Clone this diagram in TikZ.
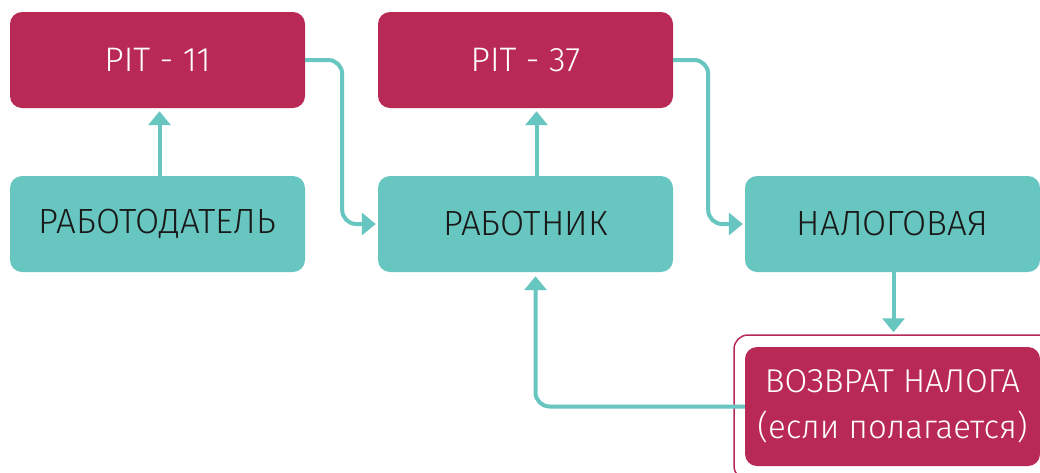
\documentclass[tikz,border=0pt]{standalone}
\usepackage{fontspec}
\setmainfont{Fira Sans}[UprightFont=* Light]
\usetikzlibrary{arrows.meta}
\definecolor{crimson}{RGB}{185,41,86}
\definecolor{aqua}{RGB}{104,198,193}
\definecolor{ink}{RGB}{25,25,25}
\tikzset{
  redbox/.style={fill=crimson, rounded corners=12pt, minimum width=295pt, minimum height=96pt, text=white, font=\fontsize{34}{36}\selectfont, align=center},
  tealbox/.style={fill=aqua, rounded corners=12pt, minimum width=295pt, minimum height=96pt, text=ink, font=\fontsize{35}{40}\selectfont},
  flow/.style={draw=aqua, line width=4pt, rounded corners=14pt, -{Triangle[width=22pt,length=14pt]}}
}
\begin{document}
\begin{tikzpicture}[x=1pt,y=-1pt]
\clip (0,0) rectangle (1040,472);
\fill[white] (0,0) rectangle (1040,472);
\node[redbox] (pit11) at (157.5,60){PIT - 11};
\node[redbox] (pit37) at (525.5,60){PIT - 37};
\node[tealbox] (employer) at (157.5,224){РАБОТОДАТЕЛЬ};
\node[tealbox] (worker) at (525.5,224){РАБОТНИК};
\node[tealbox] (taxoffice) at (892.5,224){НАЛОГОВАЯ};
\node[draw=crimson, line width=1.5pt, rounded corners=14pt, minimum width=318pt, minimum height=145pt] (refundframe) at (893,407.5){};
\node[redbox, minimum height=119pt, font=\fontsize{33}{46}\selectfont] (refund) at (892.5,406.5){ВОЗВРАТ НАЛОГА\\(если полагается)};
\draw[flow, shorten >=3pt] ([xshift=2pt]employer.north) -- ([xshift=2pt]pit11.south);
\draw[flow, shorten >=3pt] ([xshift=11pt]worker.north) -- ([xshift=11pt]pit37.south);
\draw[flow, shorten >=2pt] (pit11.east) -- ++(37,0) |- (worker.west);
\draw[flow, shorten >=2pt] (pit37.east) -- ++(35,0) |- (taxoffice.west);
\draw[flow, shorten >=2pt] ([xshift=1pt]taxoffice.south) -- ([xshift=1pt]taxoffice.south |- refundframe.north);
\draw[flow, shorten >=4pt] (refund.west) -| ([xshift=10pt]worker.south);
\end{tikzpicture}
\end{document}
